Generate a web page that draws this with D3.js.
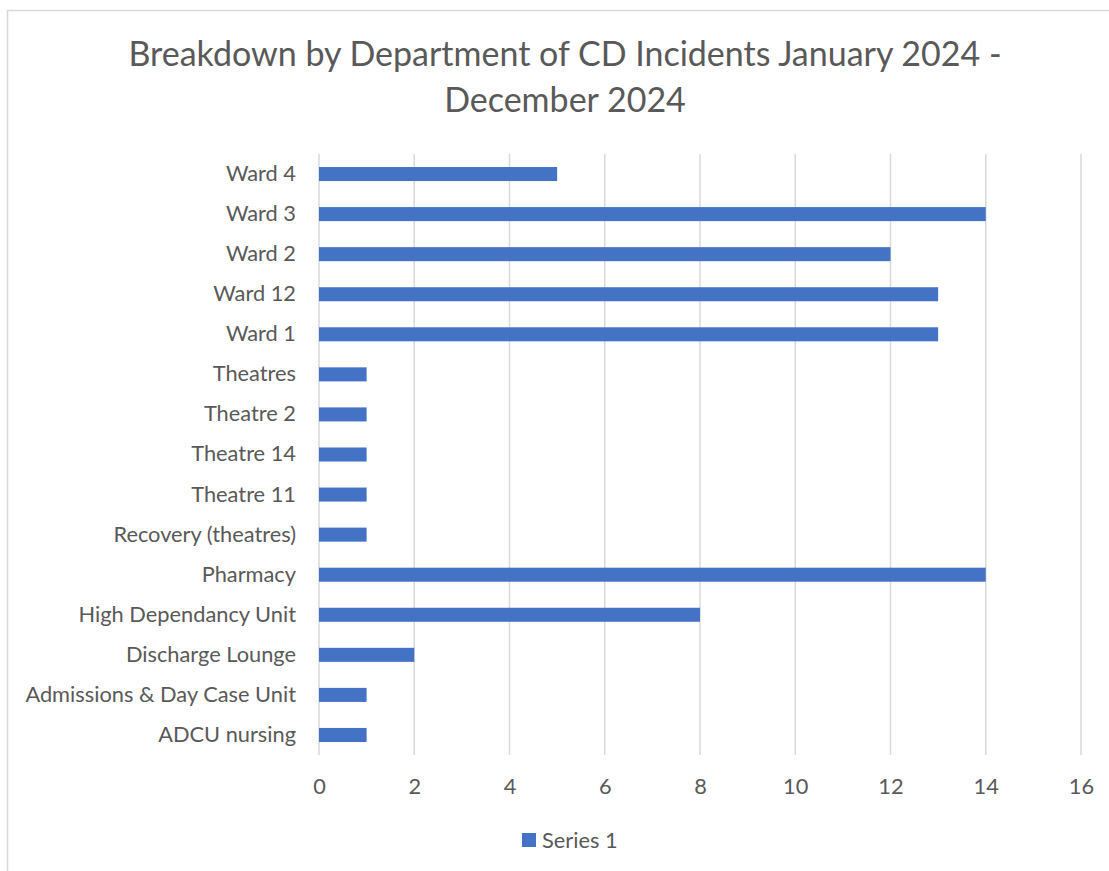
<!DOCTYPE html>
<html>
<head>
<meta charset="utf-8">
<script src="https://cdn.jsdelivr.net/npm/d3@7"></script>
<style>
  body { margin: 0; background: #fff; }
  text { font-family: Lato, "Open Sans", sans-serif; fill: #595959; }
</style>
</head>
<body>
<div class="chart-container"></div>
<script>
// data, top to bottom as shown
const departments = [
  "Ward 4", "Ward 3", "Ward 2", "Ward 12", "Ward 1",
  "Theatres", "Theatre 2", "Theatre 14", "Theatre 11", "Recovery (theatres)",
  "Pharmacy", "High Dependancy Unit", "Discharge Lounge",
  "Admissions & Day Case Unit", "ADCU nursing"
];
const incidents = [5, 14, 12, 13, 13, 1, 1, 1, 1, 1, 14, 8, 2, 1, 1];
const xTicks = [0, 2, 4, 6, 8, 10, 12, 14, 16];
const seriesName = "Series 1";
const titleLines = [
  "Breakdown by Department of CD Incidents January 2024 -",
  "December 2024"
];

const w = 1109;
const h = 871;
const plotLeft = 319, plotRight = 1081, plotTop = 154, plotBottom = 755;
const barColor = "#4472C4";
const gridColor = "#d9d9d9";
const labelSize = 21.8;

const svg = d3
  .select(".chart-container")
  .append("svg")
  .attr("width", w)
  .attr("height", h);

// chart frame
svg
  .append("rect")
  .attr("x", 7.5)
  .attr("y", 10.5)
  .attr("width", w + 10)
  .attr("height", h + 10)
  .attr("fill", "none")
  .attr("stroke", gridColor)
  .attr("stroke-width", 1.5);

// title
svg
  .append("g")
  .selectAll("text")
  .data(titleLines)
  .enter()
  .append("text")
  .attr("x", 565)
  .attr("y", (d, i) => 66 + i * 46)
  .attr("text-anchor", "middle")
  .attr("font-size", 34)
  .text((d) => d);

const xScale = d3.scaleLinear().domain([0, 16]).range([plotLeft, plotRight]);
const yScale = d3
  .scaleBand()
  .domain(departments)
  .range([plotTop, plotBottom])
  .paddingInner(0.65)
  .paddingOuter(0.325);

// gridlines
svg
  .append("g")
  .selectAll("line")
  .data(xTicks)
  .enter()
  .append("line")
  .attr("x1", (d) => xScale(d))
  .attr("x2", (d) => xScale(d))
  .attr("y1", plotTop)
  .attr("y2", plotBottom)
  .attr("stroke", gridColor)
  .attr("stroke-width", 1.5);

// x axis
const xAxis = d3.axisBottom(xScale).tickValues(xTicks).tickSize(0).tickPadding(0);
svg
  .append("g")
  .attr("transform", "translate(0," + (plotBottom + 24) + ")")
  .call(xAxis)
  .call((g) => g.select(".domain").remove())
  .selectAll("text")
  .attr("font-size", labelSize)
  .attr("font-family", "Lato, 'Open Sans', sans-serif")
  .attr("fill", "#595959");

// y axis
const yAxis = d3.axisLeft(yScale).tickSize(0).tickPadding(0);
svg
  .append("g")
  .attr("transform", "translate(296,0)")
  .call(yAxis)
  .call((g) => g.select(".domain").remove())
  .selectAll("text")
  .attr("font-size", labelSize)
  .attr("font-family", "Lato, 'Open Sans', sans-serif")
  .attr("fill", "#595959");

// bars
svg
  .append("g")
  .selectAll("rect")
  .data(incidents)
  .enter()
  .append("rect")
  .attr("x", xScale(0))
  .attr("y", (d, i) => yScale(departments[i]))
  .attr("width", (d) => xScale(d) - xScale(0))
  .attr("height", yScale.bandwidth())
  .attr("fill", barColor);

// legend
const legend = svg.append("g").attr("transform", "translate(522,833)");
legend
  .append("rect")
  .attr("width", 14)
  .attr("height", 14)
  .attr("fill", barColor);
legend
  .append("text")
  .attr("x", 20)
  .attr("y", 15)
  .attr("font-size", labelSize)
  .text(seriesName);
</script>
</body>
</html>
